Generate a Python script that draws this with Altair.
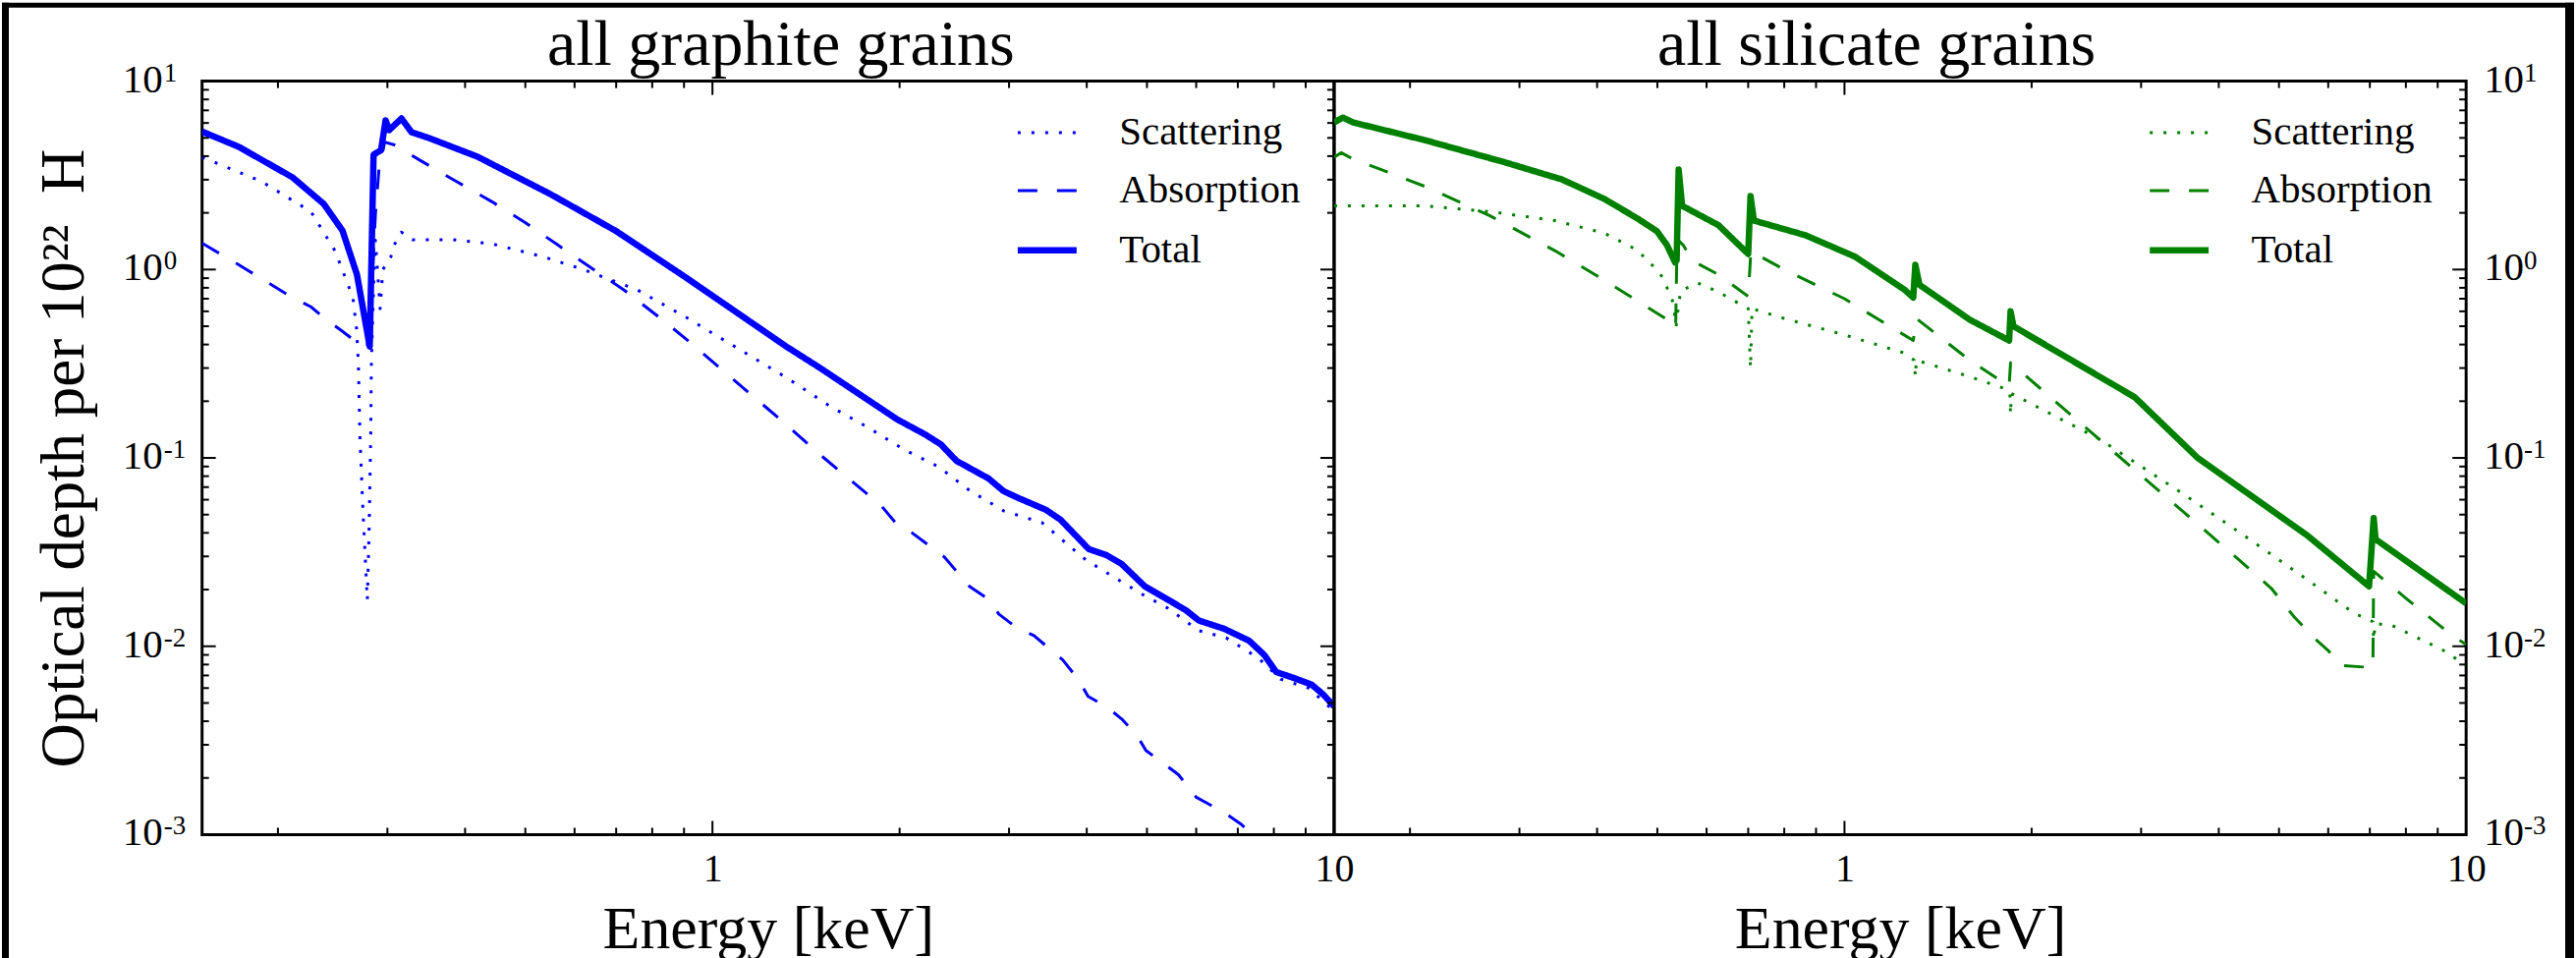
import altair as alt
import pandas as pd

W, H = 1154, 768
X_DOMAIN = [0.151, 10]
Y_DOMAIN = [0.001, 10]
SERIES = ["Scattering", "Absorption", "Total"]
FONT = "Liberation Serif"

# ---------------- graphite (left panel) ----------------
g_scat_E = [0.151, 0.188, 0.226, 0.247, 0.264, 0.2677, 0.2694, 0.2710, 0.2742, 0.2785,
            0.2803, 0.2820, 0.2827, 0.2853, 0.2870, 0.2920, 0.2950, 0.3039, 0.3076, 0.3159,
            0.3288, 0.3828, 0.442, 0.534, 0.620, 0.757, 0.905, 1.315, 1.55, 1.78, 2.03,
            2.31, 2.59, 2.94, 3.39, 3.69, 3.99, 4.36, 4.91, 5.39, 6.06, 6.7, 7.55, 8.2,
            9.1, 10.0]
g_scat_tau = [3.95, 2.94, 2.03, 1.26, 0.71, 0.48, 0.316, 0.127, 0.050, 0.0176,
              0.041, 0.127, 0.316, 0.9, 1.43, 0.62, 1.0, 1.17, 1.35, 1.58,
              1.44, 1.44, 1.37, 1.17, 1.0, 0.78, 0.56, 0.267, 0.187, 0.145, 0.111,
              0.0898, 0.0673, 0.0524, 0.0453, 0.0357, 0.0287, 0.024, 0.0189, 0.016, 0.0121,
              0.0111, 0.00867, 0.0067, 0.006, 0.00453]

g_abs_E = [0.151, 0.173, 0.211, 0.226, 0.238, 0.254, 0.268, 0.2785, 0.2840, 0.2870,
           0.2908, 0.2970, 0.3080, 0.339, 0.387, 0.442, 0.499, 0.564, 0.620, 0.72,
           0.82, 0.905, 1.315, 1.485, 1.87, 1.97, 2.09, 2.36, 2.59, 2.78, 2.89, 3.08,
           3.29, 3.66, 3.88, 4.02, 4.30, 4.55, 4.82, 4.98, 5.36, 5.62, 6.0, 6.2, 6.7,
           7.1, 7.8, 10.0]
g_abs_tau = [1.38, 1.06, 0.71, 0.634, 0.55, 0.47, 0.41, 0.39, 1.0, 1.98,
             3.44, 4.75, 4.59, 3.79, 2.94, 2.29, 1.78, 1.35, 1.09, 0.78,
             0.56, 0.43, 0.150, 0.105, 0.0556, 0.0453, 0.0402, 0.0298, 0.0208, 0.0178, 0.0148, 0.0126,
             0.0114, 0.00846, 0.00665, 0.00542, 0.00479, 0.00412, 0.00336, 0.0028, 0.00234, 0.00208, 0.00158, 0.00149, 0.00129,
             0.00113, 0.00085, 0.0004]

g_tot_E = [0.151, 0.173, 0.211, 0.237, 0.254, 0.268, 0.281, 0.285, 0.293, 0.298,
           0.302, 0.316, 0.328, 0.35, 0.419, 0.548, 0.70, 0.905, 1.315, 1.488,
           1.983, 2.20, 2.33, 2.47, 2.78, 2.94, 3.11, 3.44, 3.63, 4.03, 4.30, 4.55,
           4.96, 5.45, 5.78, 6.06, 6.65, 7.30, 7.72, 8.07, 8.6, 9.2, 9.6, 10.0]
g_tot_tau = [5.4, 4.48, 3.09, 2.23, 1.61, 0.94, 0.39, 4.07, 4.3, 6.2,
             5.5, 6.34, 5.36, 4.99, 3.97, 2.52, 1.6, 0.91, 0.39, 0.301,
             0.160, 0.133, 0.118, 0.0964, 0.0778, 0.0666, 0.0611, 0.053, 0.047, 0.0328, 0.0305, 0.0274,
             0.0208, 0.0174, 0.0155, 0.0137, 0.0124, 0.0107, 0.0090, 0.0073, 0.0068, 0.00626, 0.00556, 0.0048]

# ---------------- silicate (right panel) ----------------
s_scat_E = [0.151, 0.211, 0.269, 0.342, 0.411, 0.464, 0.49, 0.51, 0.53, 0.536,
            0.540, 0.545, 0.58, 0.627, 0.70, 0.706, 0.710, 0.80, 1.0, 1.25,
            1.295, 1.30, 1.305, 1.59, 1.80, 1.845, 1.85, 1.855, 2.58, 3.49,
            4.1, 4.8, 5.6, 6.6, 7.08, 7.10, 7.14, 7.6, 9.2, 10.0]
s_scat_tau = [2.18, 2.18, 2.03, 1.82, 1.56, 1.27, 1.06, 0.91, 0.67, 0.50,
              0.62, 0.77, 0.85, 0.76, 0.62, 0.30, 0.62, 0.55, 0.45, 0.36,
              0.33, 0.27, 0.33, 0.27, 0.235, 0.225, 0.17, 0.22, 0.125, 0.065,
              0.0453, 0.0316, 0.0221, 0.015, 0.0135, 0.0108, 0.0132, 0.0129, 0.0095, 0.0079]

s_abs_E = [0.151, 0.155, 0.161, 0.211, 0.269, 0.342, 0.411, 0.475, 0.52, 0.535,
           0.538, 0.55, 0.57, 0.627, 0.70, 0.707, 0.8, 1.0, 1.29, 1.305,
           1.59, 1.84, 1.85, 2.58, 3.42, 4.3, 4.86, 5.3, 5.76, 6.0,
           6.3, 7.08, 7.10, 8.0, 9.4, 10.0]
s_abs_tau = [3.95, 4.17, 3.9, 2.77, 1.93, 1.26, 0.877, 0.65, 0.54, 0.49,
             1.45, 1.35, 1.11, 0.94, 0.72, 1.25, 1.0, 0.70, 0.42, 0.55,
             0.33, 0.24, 0.32, 0.124, 0.0556, 0.029, 0.0203, 0.0142, 0.0107, 0.0095,
             0.0079, 0.0077, 0.025, 0.018, 0.0117, 0.0102]

s_tot_E = [0.151, 0.156, 0.162, 0.211, 0.285, 0.351, 0.411, 0.464, 0.499, 0.518,
           0.534, 0.537, 0.541, 0.548, 0.627, 0.70, 0.706, 0.715, 0.866, 1.04,
           1.25, 1.29, 1.30, 1.32, 1.59, 1.84, 1.85, 1.87, 2.93, 3.7,
           4.45, 5.55, 6.98, 7.1, 7.15, 10.0]
s_tot_tau = [6.04, 6.41, 6.04, 4.87, 3.70, 3.01, 2.37, 1.87, 1.60, 1.35,
             1.09, 1.12, 3.40, 2.18, 1.72, 1.21, 2.46, 1.82, 1.52, 1.17,
             0.78, 0.71, 1.06, 0.83, 0.542, 0.42, 0.60, 0.50, 0.21, 0.10,
             0.065, 0.0388, 0.0208, 0.048, 0.037, 0.0169]

# ---------------- ticks and labels ----------------
x_minor_ticks = [0.2, 0.3, 0.4, 0.5, 0.6, 0.7, 0.8, 0.9, 2, 3, 4, 5, 6, 7, 8, 9]
x_major_ticks = [1]
x_label_vals = [1, 10]
y_minor_ticks = [m * d for d in [0.001, 0.01, 0.1, 1] for m in [2, 3, 4, 5, 6, 7, 8, 9]]
y_major_ticks = [0.01, 0.1, 1]
y_label_vals = [10, 1, 0.1, 0.01, 0.001]
y_label_mant = ["10", "10", "10", "10", "10"]
y_label_exp = ["1", "0", "-1", "-2", "-3"]
panel_titles = ["all graphite grains", "all silicate grains"]


def long_df(sE, sT, aE, aT, tE, tT):
    parts = []
    for name, e, t in [("Scattering", sE, sT), ("Absorption", aE, aT), ("Total", tE, tT)]:
        parts.append(pd.DataFrame({"E": e, "tau": t, "series": name}))
    return pd.concat(parts, ignore_index=True)


def xs():
    return alt.Scale(type="log", domain=X_DOMAIN, nice=False)


def ys():
    return alt.Scale(type="log", domain=Y_DOMAIN, nice=False)


ONE = pd.DataFrame({"k": [0]})


def tick_layers(sides):
    layers = []
    for vals, ln in [(x_minor_ticks, 7), (x_major_ticks, 14)]:
        base = alt.Chart(pd.DataFrame({"v": vals})).mark_rule(color="black", strokeWidth=2)
        layers.append(base.encode(x=alt.X("v:Q", scale=xs(), axis=None),
                                  y=alt.value(H), y2=alt.value(H - ln)))
        layers.append(base.encode(x=alt.X("v:Q", scale=xs(), axis=None),
                                  y=alt.value(0), y2=alt.value(ln)))
    for vals, ln in [(y_minor_ticks, 7), (y_major_ticks, 14)]:
        base = alt.Chart(pd.DataFrame({"v": vals})).mark_rule(color="black", strokeWidth=2)
        if "left" in sides:
            layers.append(base.encode(y=alt.Y("v:Q", scale=ys(), axis=None),
                                      x=alt.value(0), x2=alt.value(ln)))
        if "right" in sides:
            layers.append(base.encode(y=alt.Y("v:Q", scale=ys(), axis=None),
                                      x=alt.value(W), x2=alt.value(W - ln)))
    return layers


def ylabel_layers(side):
    df = pd.DataFrame({"v": y_label_vals, "m": y_label_mant, "e": y_label_exp})
    if side == "left":
        mx, malign, ex = -40, "right", -39
    else:
        mx, malign, ex = W + 18, "left", W + 59
    mant = alt.Chart(df).mark_text(font=FONT, fontSize=41, align=malign, baseline="alphabetic",
                                   dy=11, color="black").encode(
        y=alt.Y("v:Q", scale=ys(), axis=None), x=alt.value(mx), text="m:N")
    exp = alt.Chart(df).mark_text(font=FONT, fontSize=27, align="left", baseline="alphabetic",
                                  dy=0, color="black").encode(
        y=alt.Y("v:Q", scale=ys(), axis=None), x=alt.value(ex), text="e:N")
    return [mant, exp]


def title_layer(text, shift):
    return alt.Chart(ONE).mark_text(text=text, font=FONT, fontSize=66, align="center",
                                    baseline="alphabetic", color="black").encode(
        x=alt.value(W / 2 + shift), y=alt.value(-17))


def frame_layers():
    L, R, T, B = -204, 2418, -80, 895
    bound = alt.Chart(ONE).mark_rect(fill="white", fillOpacity=0).encode(
        x=alt.value(L), x2=alt.value(R), y=alt.value(T), y2=alt.value(B))
    top = alt.Chart(ONE).mark_rect(color="black").encode(
        x=alt.value(L), x2=alt.value(R), y=alt.value(T), y2=alt.value(T + 5))
    left = alt.Chart(ONE).mark_rect(color="black").encode(
        x=alt.value(L), x2=alt.value(L + 7), y=alt.value(T), y2=alt.value(B))
    right = alt.Chart(ONE).mark_rect(color="black").encode(
        x=alt.value(R - 9), x2=alt.value(R), y=alt.value(T), y2=alt.value(B))
    return [bound, top, left, right]


def make_panel(df, color, title, left):
    legend = alt.Legend(title=None, orient="none", legendX=828, legendY=21,
                        symbolType="stroke", symbolSize=3600, symbolStrokeColor=color,
                        labelFont=FONT, labelFontSize=41, labelColor="black",
                        labelOffset=40, rowPadding=7, padding=0, labelLimit=0)
    if left:
        yaxis = alt.Axis(labels=False, ticks=False, domain=False, grid=False,
                         title="Optical depth per 10\u00b2\u00b2\u00a0 H",
                         titleFont=FONT, titleFontSize=63, titleFontWeight="normal",
                         titleColor="black", titlePadding=108)
    else:
        yaxis = None
    xaxis = alt.Axis(values=x_label_vals, labelExpr="datum.value < 5 ? '1' : '10'",
                     labelFont=FONT, labelFontSize=40, labelColor="black",
                     labelPadding=15, labelFlush=False, labelOverlap=False,
                     ticks=False, domain=False, grid=False,
                     title="Energy [keV]", titleFont=FONT, titleFontSize=62,
                     titleFontWeight="normal", titleColor="black", titlePadding=11)
    lines = alt.Chart(df).mark_line(clip=True, color=color, strokeJoin="round").encode(
        x=alt.X("E:Q", scale=xs(), axis=xaxis),
        y=alt.Y("tau:Q", scale=ys(), axis=yaxis),
        strokeDash=alt.StrokeDash("series:N",
                                  scale=alt.Scale(type="ordinal", domain=SERIES,
                                                  range=[[3, 11], [20, 20], [1, 0]]),
                                  legend=legend),
        strokeWidth=alt.StrokeWidth("series:N",
                                    scale=alt.Scale(type="ordinal", domain=SERIES, range=[3, 3, 6.5]),
                                    legend=legend),
    )
    layers = []
    if left:
        layers += frame_layers()
    layers += [lines]
    layers += tick_layers(["left", "right"] if left else ["right"])
    layers += ylabel_layers("left" if left else "right")
    layers += [title_layer(title, 13 if left else -24)]
    return alt.layer(*layers).resolve_axis(x="independent", y="independent").properties(
        width=W, height=H)


left_panel = make_panel(long_df(g_scat_E, g_scat_tau, g_abs_E, g_abs_tau, g_tot_E, g_tot_tau),
                        "#0000ff", panel_titles[0], True)
right_panel = make_panel(long_df(s_scat_E, s_scat_tau, s_abs_E, s_abs_tau, s_tot_E, s_tot_tau),
                         "#008000", panel_titles[1], False)

chart = alt.hconcat(left_panel, right_panel, spacing=0, bounds="flush").resolve_scale(
    strokeDash="independent", strokeWidth="independent", x="independent", y="independent"
).resolve_legend(
    strokeDash="independent", strokeWidth="independent"
).configure_view(stroke="black", strokeWidth=3).properties(
    padding=0, background="white", autosize=alt.AutoSizeParams(type="pad")
)

chart.save("out.html", embed_options={"renderer": "svg", "actions": False})
